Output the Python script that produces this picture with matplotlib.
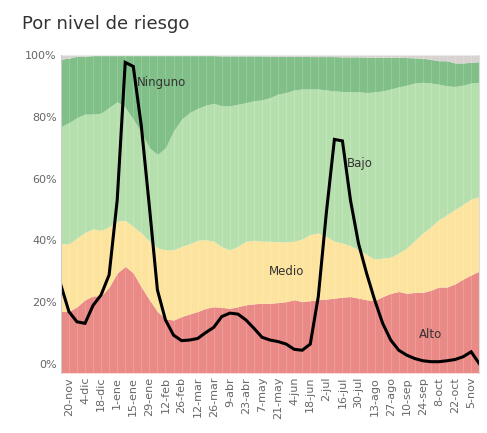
import numpy as np
import matplotlib.pyplot as plt

# etiquetas del eje x (cada 2 semanas)
tick_labels = ['20-nov', '4-dic', '18-dic', '1-ene', '15-ene', '29-ene', '12-feb', '26-feb',
               '12-mar', '26-mar', '9-abr', '23-abr', '7-may', '21-may', '4-jun', '18-jun',
               '2-jul', '16-jul', '30-jul', '13-ago', '27-ago', '10-sep', '24-sep', '8-oct',
               '22-oct', '5-nov']

# limites acumulados de cada nivel (% del total)
alto = [19.3, 19.3, 20.8, 23, 24.2, 24.2, 27, 31.4, 33.5, 31.4, 27, 23, 19.3, 17, 16.6, 17.7,
        18.5, 19.3, 20.3, 20.8, 20.6, 20.3, 20.8, 21.4, 21.7, 21.9, 21.9, 22.1, 22.4, 23, 22.4,
        22.7, 23, 23.2, 23.5, 23.8, 24, 23.5, 23, 22.7, 24, 25, 25.6, 25, 25.3, 25.3, 26, 27,
        27, 28, 29.5, 30.8, 32]
medio = [40.6, 40.6, 42.4, 44.2, 45.3, 44.8, 46, 47.7, 48, 46, 44, 41.4, 39.3, 38.7, 38.7, 39.8,
         40.6, 41.7, 41.9, 41.4, 39.6, 38.7, 39.8, 41.4, 41.7, 41.4, 41.4, 41.2, 41.2, 41.4, 42.1,
         43.5, 44, 42.9, 41.4, 40.8, 40, 38.7, 37.2, 35.8, 36.1, 36.4, 37.7, 39.3, 41.7, 44, 46,
         48.2, 49.8, 51.4, 53, 54.7, 55.4]
bajo = [77.5, 78.7, 80.3, 81.4, 81.4, 81.7, 83.5, 85.3, 83.5, 79.8, 75.6, 70.8, 68.7, 70.8, 76.1,
        79.8, 81.9, 83.2, 84.2, 84.8, 84, 84, 84.5, 85, 85.6, 85.9, 86.6, 87.7, 88.2, 89, 89.3,
        89.3, 89.3, 89, 88.7, 88.5, 88.4, 88.4, 88.2, 88.4, 88.7, 89.3, 90, 90.5, 91.2, 91.4,
        91.2, 90.8, 90.3, 90.1, 90.5, 91.2, 91.4]
ninguno = [98.7, 99, 99.6, 99.6, 99.8, 99.8, 99.8, 99.8, 99.8, 99.8, 99.8, 99.8, 99.8, 99.8,
           99.8, 99.8, 99.8, 99.8, 99.8, 99.8, 99.7, 99.7, 99.7, 99.7, 99.7, 99.7, 99.6, 99.6,
           99.6, 99.6, 99.6, 99.5, 99.5, 99.5, 99.5, 99.4, 99.4, 99.4, 99.3, 99.3, 99.3, 99.3,
           99.3, 99.2, 99.1, 99, 98.6, 98.2, 98.2, 97.5, 97.5, 97.7, 97.9]
# linea negra
linea = [25.6, 17, 13.7, 13.2, 19, 22.4, 28.9, 53, 97.6, 96.3, 77, 51, 24, 14.3, 9.4, 7.6, 7.8,
         8.3, 10.2, 11.9, 15.4, 16.5, 16.2, 14.3, 11.6, 8.7, 7.8, 7.3, 6.5, 4.8, 4.5, 6.5, 21.9,
         49, 72.7, 72.2, 53, 39, 29.4, 20.8, 13.2, 7.8, 4.5, 2.9, 1.8, 1.1, 0.8, 0.8, 1.1, 1.5,
         2.4, 4, 0.2]

x = np.arange(len(alto))
base = -2.8
def esc(v):
    return np.array(v) * 1.028 + base

fig = plt.figure(figsize=(4.87, 4.33), dpi=100)
fig.text(0.045, 0.945, 'Por nivel de riesgo', fontsize=13, color='#333333', va='center')
ax = fig.add_axes([0.125, 0.139, 0.859, 0.734])

capas = [(np.zeros(len(x)), alto, '#e98a86'),
         (alto, medio, '#fde49e'),
         (medio, bajo, '#b5dfad'),
         (bajo, ninguno, '#80bf88'),
         (ninguno, np.full(len(x), 100.0), '#d8d2d0')]
for lo, hi, c in capas:
    ax.fill_between(x, esc(lo), esc(hi), color=c, lw=0)
for xi in x[1:-1]:
    ax.axvline(xi, color='white', lw=0.4, alpha=0.3)
ax.plot(x, linea, color='black', lw=2.2, solid_joinstyle='miter')

ax.text(12.5, esc(91.4), 'Ninguno', fontsize=8.5, color='#333333', ha='center', va='center')
ax.text(37.2, esc(66), 'Bajo', fontsize=8.5, color='#333333', ha='center', va='center')
ax.text(28, esc(32), 'Medio', fontsize=8.5, color='#333333', ha='center', va='center')
ax.text(46, esc(12), 'Alto', fontsize=8.5, color='#333333', ha='center', va='center')

ax.set_xlim(0, len(x) - 1)
ax.set_ylim(base, esc(100))
ax.set_yticks([0, 20, 40, 60, 80, 100])
ax.set_yticklabels(['0%', '20%', '40%', '60%', '80%', '100%'], color='#666666', fontsize=8)
ax.set_xticks(np.arange(1, len(x), 2))
ax.set_xticklabels(tick_labels, rotation=90, color='#666666', fontsize=8)
ax.tick_params(length=0, pad=3)
for s in ['top', 'bottom']:
    ax.spines[s].set_visible(False)
ax.spines['left'].set_color('#cccccc')
ax.spines['right'].set_color('#dddddd')

fig.savefig('out.png', dpi=100)
